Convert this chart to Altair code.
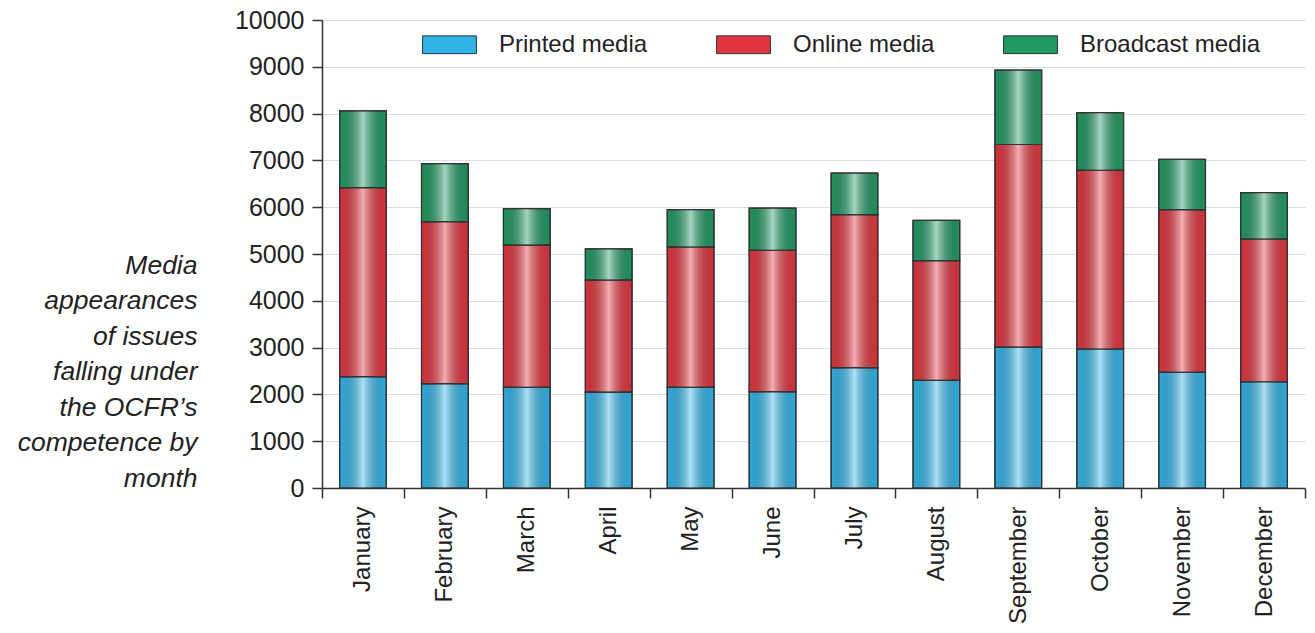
import altair as alt
import pandas as pd

months = ["January", "February", "March", "April", "May", "June",
          "July", "August", "September", "October", "November", "December"]
series = ["Printed media", "Online media", "Broadcast media"]
printed = [2380, 2230, 2150, 2050, 2150, 2060, 2570, 2300, 3010, 2970, 2470, 2270]
online = [4040, 3460, 3040, 2390, 3000, 3020, 3270, 2560, 4330, 3820, 3480, 3050]
broadcast = [1640, 1240, 780, 670, 800, 900, 890, 860, 1590, 1230, 1070, 990]
colors = ["#30b4e8", "#e2343e", "#1f9a62"]
y_ticks = list(range(0, 10001, 1000))
y_title = ["Media", "appearances", "of issues", "falling under",
           "the OCFR\u2019s", "competence by", "month"]

rows = []
for i, m in enumerate(months):
    for k, (s, vals) in enumerate(zip(series, [printed, online, broadcast])):
        rows.append({"month": m, "series": s, "order": k, "value": vals[i]})
df = pd.DataFrame(rows)

FONT = "Liberation Sans"

base = alt.Chart(df).transform_stack(
    stack="value", groupby=["month"], as_=["y0", "y1"],
    sort=[alt.SortField("order", order="ascending")],
)

x = alt.X(
    "month:N", sort=months,
    scale=alt.Scale(paddingInner=0, paddingOuter=0),
    axis=alt.Axis(
        title=None, labelAngle=-90, labelFontSize=24, labelFont=FONT,
        labelColor="#222", labelPadding=8, tickSize=10, tickBand="extent",
        tickColor="#333", domainColor="#333", domainWidth=1.5, tickWidth=1.5,
        grid=False,
    ),
)
y = alt.Y(
    "y0:Q",
    scale=alt.Scale(domain=[0, 10000], nice=False),
    axis=alt.Axis(
        values=y_ticks, format="d", title=y_title, titleAngle=0,
        titleAlign="right", titleBaseline="middle", titleX=-125, titleY=245,
        titleLineHeight=35.5,
        titleFont=FONT, titleFontSize=26.5, titleFontStyle="italic",
        titleFontWeight="normal", titleColor="#222",
        labelFontSize=25, labelFont=FONT, labelColor="#222", labelPadding=8,
        tickSize=10, tickColor="#333", domainColor="#333", domainWidth=1.5,
        tickWidth=1.5, grid=True, gridColor="#dcdce6", gridWidth=1.2,
    ),
)

bar_w = alt.RelativeBandSize(0.57)

bars = base.mark_bar(stroke="#333", strokeWidth=1.2, width=bar_w).encode(
    x=x, y=y, y2="y1:Q",
    color=alt.Color(
        "series:N", scale=alt.Scale(domain=series, range=colors),
        legend=alt.Legend(
            title=None, orient="none", legendX=100, legendY=-3,
            direction="horizontal",
            symbolType="M-1,-0.33L1,-0.33L1,0.33L-1,0.33Z",
            symbolSize=2900, symbolStrokeColor="#333", symbolStrokeWidth=1,
            symbolOpacity=1, labelFontSize=24, labelFont=FONT,
            labelColor="#222", labelOffset=22, columnPadding=66,
            labelLimit=400, padding=0,
        ),
    ),
)

gloss = alt.LinearGradient(
    gradient="linear", x1=0, x2=1, y1=0, y2=0,
    stops=[
        alt.GradientStop(color="rgba(0,0,0,0.04)", offset=0),
        alt.GradientStop(color="rgba(255,255,255,0.6)", offset=0.5),
        alt.GradientStop(color="rgba(0,0,0,0.04)", offset=1),
    ],
)
overlay = base.mark_bar(fill=gloss, stroke="#333", strokeWidth=1.2,
                        width=bar_w).encode(
    x=x, y=y, y2="y1:Q",
)

chart = alt.layer(bars, overlay).properties(
    width=983, height=468,
    padding={"left": 322, "top": 20, "right": 10, "bottom": 145},
    autosize="none",
).configure_view(stroke=None)

chart.save("out.html", embed_options={"renderer": "svg", "actions": False})
